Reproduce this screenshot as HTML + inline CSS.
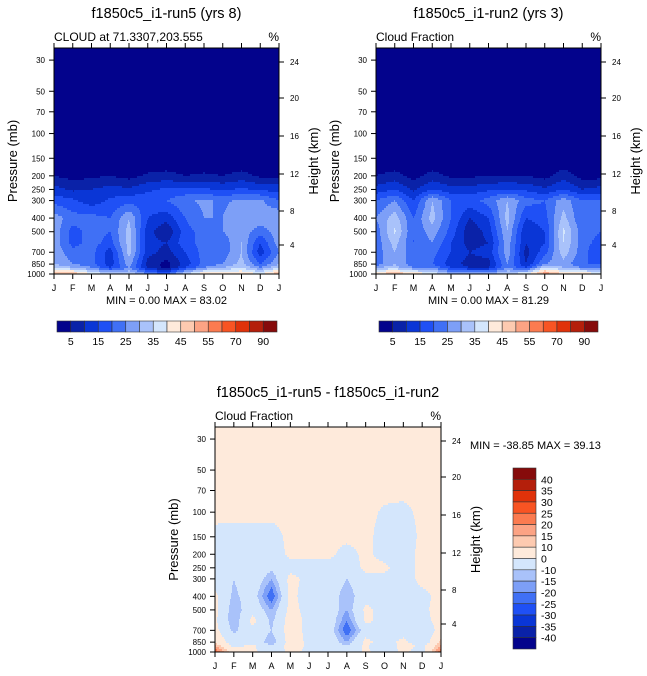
<!DOCTYPE html>
<html><head><meta charset="utf-8"><style>
body{margin:0;background:#fff;width:647px;height:676px;overflow:hidden;position:relative;font-family:"Liberation Sans",sans-serif}
svg{position:absolute;left:0;top:0}
</style></head><body>
<svg id="s" width="647" height="676"></svg>
<script>
const months=['J','F','M','A','M','J','J','A','S','O','N','D','J'];
const plev=[1000,900,850,700,600,500,400,300,250,200,150,100,70,25];
const levelsAbs=[5,10,15,20,25,30,35,40,45,50,55,60,70,80,90];
const levelsDiff=[-40,-35,-30,-25,-20,-15,-10,0,10,15,20,25,30,35,40];
const palette=['#03038c','#0a22a8','#0a36d6','#1f50f5','#4070f5','#7d9ff7','#a9c2fa','#d4e6fc','#feeadb','#fdcab0','#fca384','#fb7b50','#f85423','#e0320a','#b41f0b','#860b0b'];
const absLabels=['5','15','25','35','45','55','70','90'];
const diffLabels=['40','35','30','25','20','15','10','0','-10','-15','-20','-25','-30','-35','-40'];
const presTicks=[30,50,70,100,150,200,250,300,400,500,700,850,1000];
const heightTicks=[24,20,16,12,8,4];
const run5=[
[50,50,40,35,35,25,20,35,45,45,45,40,50],
[35,30,25,15,25,10,3,15,25,30,35,25,35],
[30,25,22,12,28,8,3,12,22,25,32,20,30],
[28,22,22,12,32,12,8,15,22,22,30,12,25],
[28,18,22,18,32,12,10,18,22,22,30,15,28],
[28,18,22,20,32,12,5,18,22,25,28,22,28],
[28,22,22,20,30,15,12,20,25,25,30,28,30],
[18,16,12,16,18,18,20,24,26,24,26,26,20],
[12,9,10,12,11,14,16,16,16,14,16,14,13],
[5,3,4,5,3,6,7,5,6,5,7,4,4],
[0,0,0,0,0,0,0,0,0,0,0,0,0],
[0,0,0,0,0,0,0,0,0,0,0,0,0],
[0,0,0,0,0,0,0,0,0,0,0,0,0],
[0,0,0,0,0,0,0,0,0,0,0,0,0]];
const run2=[
[45,50,45,40,30,30,30,35,40,55,45,45,40],
[30,32,25,25,15,10,10,25,15,35,30,25,25],
[22,30,22,20,12,8,8,25,10,25,28,20,20],
[22,30,22,22,15,10,12,28,8,18,33,22,15],
[22,32,20,25,15,8,10,28,10,15,35,22,18],
[22,36,20,28,18,6,12,30,10,15,36,22,20],
[25,33,20,32,20,10,15,32,15,18,32,20,22],
[20,25,15,30,20,18,22,30,22,20,28,20,20],
[12,15,9,15,12,12,14,15,14,11,15,10,12],
[5,7,3,7,4,4,5,5,5,3,8,3,3],
[0,0,0,0,0,0,0,0,0,0,0,0,0],
[0,0,0,0,0,0,0,0,0,0,0,0,0],
[0,0,0,0,0,0,0,0,0,0,0,0,0],
[0,0,0,0,0,0,0,0,0,0,0,0,0]];
const diff=[
[25,5,2,-5,2,-2,-5,-8,2,-5,2,-5,25],
[15,-3,2,-10,5,-2,-5,-10,2,-10,5,-3,15],
[8,-5,-3,-15,5,-2,-3,-15,3,-5,3,-8,12],
[3,-12,-3,-10,5,-3,-3,-25,-5,-3,-5,-10,5],
[2,-15,3,-12,5,-3,-3,-20,2,-3,-5,-3,3],
[3,-15,-3,-15,3,-3,-3,-15,2,-3,-5,-3,5],
[2,-12,-5,-25,3,-5,-3,-15,-3,-3,-5,-3,3],
[-3,-10,-3,-15,3,-3,-3,-10,-3,-3,-5,3,3],
[-3,-10,-3,-8,-3,-3,-3,-5,2,2,-5,3,3],
[-3,-5,-3,-5,2,2,2,-3,2,-3,-5,3,2],
[-2,-3,-3,-3,2,2,2,2,2,-3,-5,2,2],
[2,2,2,2,2,2,2,2,2,-1,-2,2,2],
[2,2,2,2,2,2,2,2,2,2,2,2,2],
[2,2,2,2,2,2,2,2,2,2,2,2,2]];

const NS='http://www.w3.org/2000/svg';
const svg=document.getElementById('s');
function mk(tag,attrs,parent,text){const e=document.createElementNS(NS,tag);for(const k in attrs)e.setAttribute(k,attrs[k]);if(text!==undefined)e.textContent=text;(parent||svg).appendChild(e);return e;}
function colorFor(v,lev){let i=0;while(i<lev.length&&v>=lev[i])i++;return palette[i];}

function drawPanel(P){
  const g=mk('g',{});
  
  
  const W=P.x1-P.x0,H=P.y1-P.y0;
  const pxPerDec=(H)/Math.log10(1000/24.6);
  const yOf=p=>P.y1-Math.log10(1000/p)*pxPerDec;
  const xOf=m=>P.x0+m*W/12;
  const step=2;
  const ly=plev.map(p=>yOf(p));
  const field=mk('g',{},g);
  
  
  for(let py=P.y0;py<P.y1;py+=step){
    const yc=py+step/2;
    let k=0;while(k<ly.length-2&&yc<ly[k+1])k++;
    let t=(ly[k]-yc)/(ly[k]-ly[k+1]);t=Math.max(0,Math.min(1,t));
    const hh=Math.min(step,P.y1-py)+0.5;
    let runStart=P.x0,runCol=null;
    for(let px=P.x0;px<P.x1;px+=1){
      const m=(px+0.5-P.x0)/W*12;
      const i=Math.min(11,Math.floor(m)),u=m-i;
      const a=P.data[k][i]*(1-u)+P.data[k][i+1]*u;
      const b=P.data[k+1][i]*(1-u)+P.data[k+1][i+1]*u;
      const col=colorFor(a*(1-t)+b*t,P.lev);
      if(col!==runCol){
        if(runCol!==null)mk('rect',{x:runStart,y:py,width:px-runStart+0.5,height:hh,fill:runCol},field);
        runStart=px;runCol=col;
      }
    }
    mk('rect',{x:runStart,y:py,width:P.x1-runStart,height:hh,fill:runCol},field);
  }
  mk('rect',{x:P.x0,y:P.y0,width:W,height:H,fill:'none',stroke:'#000','stroke-width':1},g);
  months.forEach((m,i)=>{const x=xOf(i);
    mk('line',{x1:x,x2:x,y1:P.y1,y2:P.y1+5,stroke:'#000'},g);
    mk('line',{x1:x,x2:x,y1:P.y0,y2:P.y0-5,stroke:'#000'},g);
    const t=mk('text',{x:x,y:P.y1+17,'font-size':9,'text-anchor':'middle'},g,m);
    });
  presTicks.forEach(p=>{const y=yOf(p);
    mk('line',{x1:P.x0,x2:P.x0-5,y1:y,y2:y,stroke:'#000'},g);
    const t=mk('text',{x:P.x0-9,y:y+3,'font-size':8,'text-anchor':'end'},g,p);
    });
  heightTicks.forEach((h,i)=>{const y=P.y0+[14,50,88,126,163,197][i];
    mk('line',{x1:P.x1,x2:P.x1+5,y1:y,y2:y,stroke:'#000'},g);
    const t=mk('text',{x:P.x1+11,y:y+3,'font-size':8},g,h);
    });
  let t=mk('text',{x:(P.x0+P.x1)/2,y:P.y0-30,'font-size':14.5,'text-anchor':'middle'},g,P.title);
  
  t=mk('text',{x:P.x0,y:P.y0-7,'font-size':12},g,P.sub);
  
  t=mk('text',{x:P.x1,y:P.y0-7,'font-size':12,'text-anchor':'end'},g,'%');
  
  const cy=(P.y0+P.y1)/2;
  t=mk('text',{x:P.x0-37,y:cy,'font-size':13,'text-anchor':'middle',transform:`rotate(-90 ${P.x0-37} ${cy})`},g,'Pressure (mb)');
  
  t=mk('text',{x:P.x1+39,y:cy,'font-size':13,'text-anchor':'middle',transform:`rotate(-90 ${P.x1+39} ${cy})`},g,'Height (km)');
  
  if(P.minmax){t=mk('text',{x:(P.x0+P.x1)/2,y:P.y1+30,'font-size':11,'text-anchor':'middle','xml:space':'preserve'},g,P.minmax);
    }
}
function hbar(x0,x1,y0,y1){
  const g=mk('g',{});
  const w=(x1-x0)/16;
  palette.forEach((c,i)=>mk('rect',{x:x0+i*w,y:y0,width:w,height:y1-y0,fill:c,stroke:'#333','stroke-width':0.6},g));
  absLabels.forEach((l,j)=>{const t=mk('text',{x:x0+(2*j+1)*w,y:y1+13,'font-size':10.5,'text-anchor':'middle'},g,l);
    });
}
drawPanel({name:'panel-run5',x0:54,x1:279,y0:48,y1:274,data:run5,lev:levelsAbs,title:'f1850c5_i1-run5 (yrs 8)',sub:'CLOUD at 71.3307,203.555',minmax:'MIN =   0.00 MAX =  83.02'});
drawPanel({name:'panel-run2',x0:376,x1:601,y0:48,y1:274,data:run2,lev:levelsAbs,title:'f1850c5_i1-run2 (yrs 3)',sub:'Cloud Fraction',minmax:'MIN =   0.00 MAX =  81.29'});
drawPanel({name:'panel-diff',x0:215,x1:441,y0:427,y1:652,data:diff,lev:levelsDiff,title:'f1850c5_i1-run5 - f1850c5_i1-run2',sub:'Cloud Fraction'});
hbar(57,277,321,332);hbar(379,598,321,332);
(function(){const g=mk('g',{});
  const x0=513,x1=536,y0=468,y1=649,h=(y1-y0)/16;
  palette.slice().reverse().forEach((c,i)=>mk('rect',{x:x0,y:y0+i*h,width:x1-x0,height:h,fill:c,stroke:'#333','stroke-width':0.6},g));
  diffLabels.forEach((l,i)=>{const t=mk('text',{x:x1+5,y:y0+(i+1)*h+4,'font-size':10.5},g,l);
    });
  const t=mk('text',{x:470,y:449,'font-size':11,'xml:space':'preserve'},svg,'MIN = -38.85 MAX =  39.13');
  
})();
</script>
</body></html>
